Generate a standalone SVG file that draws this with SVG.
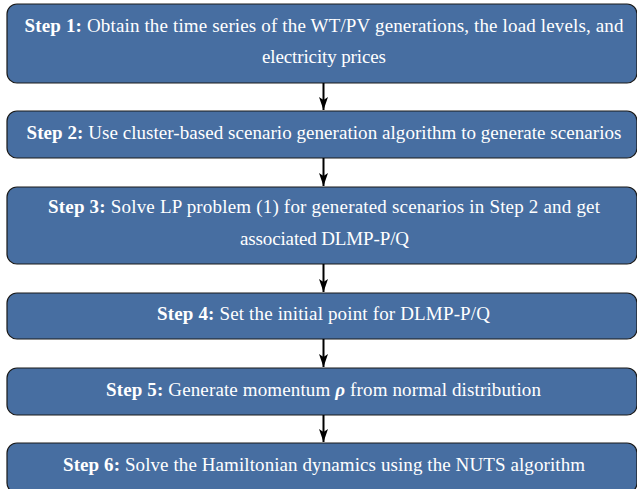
<svg xmlns="http://www.w3.org/2000/svg" width="637" height="489" viewBox="0 0 637 489">
<style>
.box{fill:#476ea1;stroke:#1a1a1a;stroke-width:1.2}
.t{font-size:19px;fill:#ffffff;text-anchor:middle}
.b{font-weight:bold}
.conn line{stroke:#000;stroke-width:2}
</style>
<defs>
<marker id="ah" markerUnits="userSpaceOnUse" markerWidth="14" markerHeight="10" refX="13" refY="5" orient="auto">
<path d="M0,0.5 L13,5 L0,9.5 L3,5 z" fill="#000"/>
</marker>
</defs>
<g font-family="'Liberation Serif', 'Times New Roman', 'DejaVu Serif', serif">
<g id="step1">
<rect class="box" x="7" y="4" width="630" height="79" rx="10"/>
<text class="t" x="324" y="32" textLength="599" lengthAdjust="spacing"><tspan class="b">Step 1:</tspan> Obtain the time series of the WT/PV generations, the load levels, and</text>
<text class="t" x="324" y="63" textLength="124" lengthAdjust="spacing">electricity prices</text>
</g>
<g id="step2">
<rect class="box" x="7" y="111" width="630" height="47" rx="10"/>
<text class="t" x="324" y="139" textLength="595" lengthAdjust="spacing"><tspan class="b">Step 2:</tspan> Use cluster-based scenario generation algorithm to generate scenarios</text>
</g>
<g id="step3">
<rect class="box" x="7" y="187" width="630" height="77" rx="10"/>
<text class="t" x="324" y="213" textLength="552" lengthAdjust="spacing"><tspan class="b">Step 3:</tspan> Solve LP problem (1) for generated scenarios in Step 2 and get</text>
<text class="t" x="324.5" y="245" textLength="169" lengthAdjust="spacing">associated DLMP-P/Q</text>
</g>
<g id="step4">
<rect class="box" x="7" y="293" width="630" height="46" rx="10"/>
<text class="t" x="323.5" y="320" textLength="333" lengthAdjust="spacing"><tspan class="b">Step 4:</tspan> Set the initial point for DLMP-P/Q</text>
</g>
<g id="step5">
<rect class="box" x="7" y="368" width="630" height="47" rx="10"/>
<text class="t" x="323.5" y="396" textLength="435" lengthAdjust="spacing"><tspan class="b">Step 5:</tspan> Generate momentum <tspan class="b" font-style="italic">ρ</tspan> from normal distribution</text>
</g>
<g id="step6">
<rect class="box" x="7" y="443" width="630" height="50" rx="10"/>
<text class="t" x="324" y="471" textLength="522" lengthAdjust="spacing"><tspan class="b">Step 6:</tspan> Solve the Hamiltonian dynamics using the NUTS algorithm</text>
</g>
</g>
<g id="connectors" class="conn">
<line x1="323.5" y1="83" x2="323.5" y2="110" marker-end="url(#ah)"/>
<line x1="323.5" y1="158" x2="323.5" y2="186" marker-end="url(#ah)"/>
<line x1="323.5" y1="264" x2="323.5" y2="292" marker-end="url(#ah)"/>
<line x1="323.5" y1="339" x2="323.5" y2="367" marker-end="url(#ah)"/>
<line x1="323.5" y1="415" x2="323.5" y2="442" marker-end="url(#ah)"/>
</g>
</svg>
